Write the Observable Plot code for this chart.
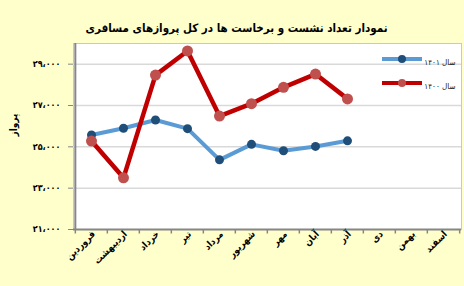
<!DOCTYPE html>
<html><head><meta charset="utf-8">
<script src="https://cdn.jsdelivr.net/npm/d3@7"></script>
<script src="https://cdn.jsdelivr.net/npm/@observablehq/plot@0.6"></script>
<style>
html,body{margin:0;padding:0;background:#FFFFCC;}
</style></head><body><div id="chart"></div>
<script>
const title = "نمودار تعداد نشست و برخاست ها در کل پروازهای مسافری";
const yLabel = "پرواز";
const months = ["فروردین","اردیبهشت","خرداد","تیر","مرداد","شهریور","مهر","آبان","آذر","دی","بهمن","اسفند"];
const series = ["سال ۱۴۰۱","سال ۱۴۰۰"];
const values1401 = [25570, 25900, 26300, 25880, 24370, 25120, 24810, 25020, 25290, null, null, null];
const values1400 = [25280, 23500, 28470, 29640, 26490, 27090, 27880, 28520, 27320, null, null, null];
const yTicks = [21000, 23000, 25000, 27000, 29000];
const yDomain = [21000, 30000];

const W = 464, H = 286, mL = 73, mR = 3, mT = 43, mB = 57;
const step = (W - mL - mR) / months.length;
const fa = s => s.replace(/\d/g, d => "۰۱۲۳۴۵۶۷۸۹"[d]).replace(/,/g, "،");
const fmt = v => fa(d3.format(",")(v));

const rows1401 = months.map((m, i) => ({month: m, value: values1401[i]})).filter(d => d.value != null);
const rows1400 = months.map((m, i) => ({month: m, value: values1400[i]})).filter(d => d.value != null);

const tickSym = {draw(ctx) { ctx.moveTo(0, 0); ctx.lineTo(0, 4); }};
const legSym = {draw(ctx) { ctx.moveTo(-20, 0); ctx.lineTo(20, 0); }};

const blue = "#5B9BD5", blueDot = "#1F4E79", red = "#C00000", redDot = "#C0504D", axisC = "#868686";
const cond = "DejaVu Sans Condensed";

function legend(i, color, dotColor, r, dy) {
  return [
    Plot.dot([series[i]], {frameAnchor: "top-right", dx: -59.5, dy, symbol: legSym, stroke: color, strokeWidth: 4, fill: "none"}),
    Plot.dot([series[i]], {frameAnchor: "top-right", dx: -59.5, dy, r, fill: dotColor, stroke: "none"}),
    Plot.text([series[i]], {frameAnchor: "top-right", dx: -6, dy, text: d => d, textAnchor: "end", fontSize: 8, fontFamily: cond, fill: "#222"})
  ];
}

const chart = Plot.plot({
  width: W, height: H,
  marginLeft: mL, marginRight: mR, marginTop: mT, marginBottom: mB,
  style: {background: "#FFFFCC", fontFamily: cond, color: "#000"},
  x: {type: "point", domain: months, padding: 0.5},
  y: {domain: yDomain},
  marks: [
    Plot.frame({fill: "white", stroke: "#c8c8c8"}),
    Plot.gridY({ticks: yTicks.slice(1), stroke: "#d9d9d9", strokeOpacity: 1, strokeWidth: 1.5}),
    Plot.ruleY([yTicks[0]], {stroke: axisC, strokeWidth: 2}),
    Plot.ruleX([months[0]], {dx: -step / 2, stroke: axisC, strokeWidth: 2}),
    Plot.dot(months, {x: d => d, frameAnchor: "bottom", dx: -step / 2, symbol: tickSym, stroke: axisC, strokeWidth: 1.5, fill: "none"}),
    Plot.dot([months[months.length - 1]], {x: d => d, frameAnchor: "bottom", dx: step / 2, symbol: tickSym, stroke: axisC, strokeWidth: 1.5, fill: "none"}),
    Plot.axisY({ticks: yTicks, tickFormat: fmt, tickSize: 5, tickPadding: 8, stroke: axisC, fontSize: 9, fontWeight: "bold", fontFamily: cond, label: null}),
    Plot.axisX({tickSize: 0, tickRotate: -45, tickPadding: 3, dx: 2, fontSize: 9.5, fontWeight: "bold", fontFamily: cond, label: null}),
    Plot.text([yLabel], {frameAnchor: "left", dx: -60, rotate: -90, fontSize: 10, fontWeight: "bold", fontFamily: cond}),
    Plot.text([title], {frameAnchor: "top", dx: -31, dy: -20, fontSize: 11.5, fontWeight: "bold", fontFamily: cond}),
    Plot.line(rows1401, {x: "month", y: "value", stroke: blue, strokeWidth: 4}),
    Plot.dot(rows1401, {x: "month", y: "value", r: 4.5, fill: blueDot, stroke: "none"}),
    Plot.line(rows1400, {x: "month", y: "value", stroke: red, strokeWidth: 4.5}),
    Plot.dot(rows1400, {x: "month", y: "value", r: 5.5, fill: redDot, stroke: "none"}),
    ...legend(0, blue, blueDot, 4, 15.5),
    ...legend(1, red, redDot, 4, 39.5)
  ]
});
document.getElementById("chart").appendChild(chart);
</script></body></html>
